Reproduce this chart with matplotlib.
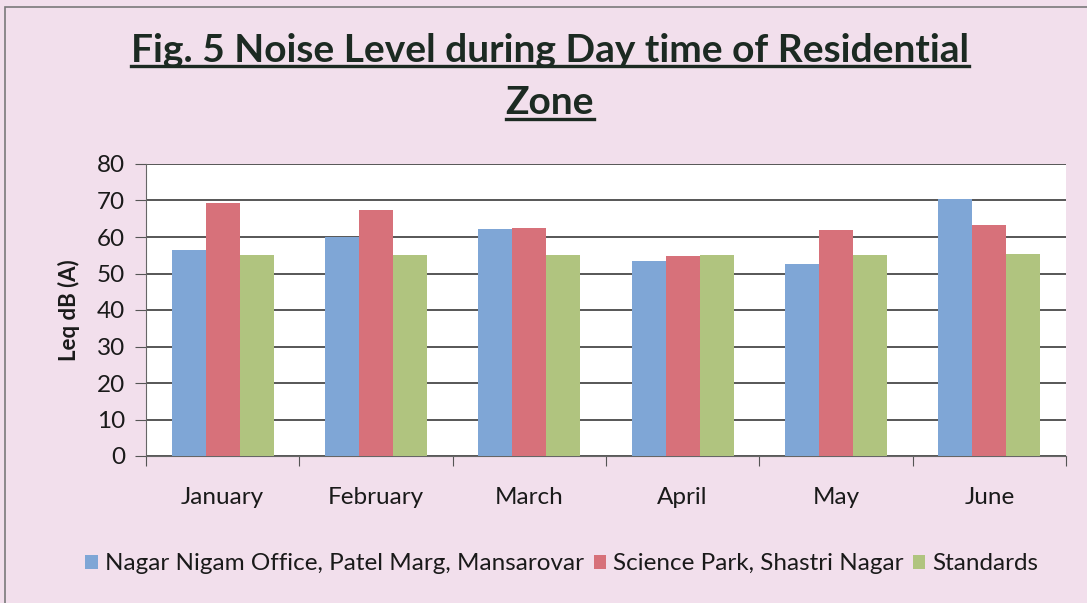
import numpy as np
import matplotlib
matplotlib.use("Agg")
import matplotlib.pyplot as plt
from matplotlib.lines import Line2D
from matplotlib.patches import Rectangle

months = ["January", "February", "March", "April", "May", "June"]
series_names = ["Nagar Nigam Office, Patel Marg, Mansarovar",
                "Science Park, Shastri Nagar",
                "Standards"]
nagar_nigam = [56.5, 60.0, 62.3, 53.3, 52.5, 70.5]
science_park = [69.2, 67.3, 62.6, 54.7, 62.0, 63.4]
standards = [55.0, 55.0, 55.1, 55.2, 55.2, 55.3]
colors = ["#7fa6d6", "#d7717a", "#b0c47f"]

plt.rcParams["font.family"] = ["Lato", "DejaVu Sans"]

fig = plt.figure(figsize=(10.87, 6.03), dpi=100)
fig.patch.set_facecolor("#f2dfec")

# outer border of the chart
fig.add_artist(Rectangle((5 / 1087, -0.02), 1.1, (603 - 7) / 603 + 0.02,
                         transform=fig.transFigure, fill=False,
                         edgecolor="#7a7a7a", linewidth=1.2))

ax = fig.add_axes([146 / 1087, 147 / 603, 920 / 1087, 292 / 603])
ax.set_facecolor("white")

x = np.arange(len(months))
w = 1 / 4.5
for i, vals in enumerate([nagar_nigam, science_park, standards]):
    ax.bar(x + (i - 1) * w, vals, width=w, color=colors[i],
           label=series_names[i], zorder=3)

ax.set_xlim(-0.5, len(months) - 0.5)
ax.set_ylim(0, 80)
ax.set_yticks(range(0, 81, 10))
ax.yaxis.grid(True, color="#3a3a3a", linewidth=1.2, zorder=0)
ax.set_axisbelow(True)

ax.set_xticks(np.arange(-0.5, len(months), 1.0))
ax.set_xticklabels([])
ax.set_xticks(x, minor=True)
ax.set_xticklabels(months, minor=True, fontsize=17.5, color="#1a1a1a")
ax.tick_params(axis="x", which="minor", length=0, pad=22)
ax.tick_params(axis="x", which="major", length=7, color="#555555", direction="out")
ax.tick_params(axis="y", length=8, color="#555555", labelsize=17.5,
               labelcolor="#1a1a1a", pad=7)

for s in ["top", "right"]:
    ax.spines[s].set_visible(False)
ax.spines["left"].set_color("#666666")
ax.spines["bottom"].set_color("#666666")

ax.set_ylabel("Leq dB (A)", fontsize=16, fontweight="bold", color="#1a1a1a", labelpad=12)

leg = fig.legend(loc="center", bbox_to_anchor=(562 / 1087, 1 - 564 / 603),
                 ncol=3, frameon=False, fontsize=17.5, handlelength=0.5,
                 handleheight=0.5, handletextpad=0.3, columnspacing=0.4)
for t in leg.get_texts():
    t.set_color("#1a1a1a")

# title with underline
title_lines = ["Fig. 5 Noise Level during Day time of Residential", "Zone"]
title_y = [1 - 50 / 603, 1 - 103 / 603]
fig.canvas.draw()
renderer = fig.canvas.get_renderer()
for line, ty in zip(title_lines, title_y):
    t = fig.text(550 / 1087, ty, line, ha="center", va="center",
                 fontsize=28, fontweight="bold", color="#1c2a22")
    bb = t.get_window_extent(renderer).transformed(fig.transFigure.inverted())
    uy = bb.y0 + 0.003
    fig.add_artist(Line2D([bb.x0, bb.x1], [uy, uy], transform=fig.transFigure,
                          color="#1c2a22", linewidth=2.4))

fig.savefig("out.png", dpi=100, facecolor=fig.get_facecolor())
